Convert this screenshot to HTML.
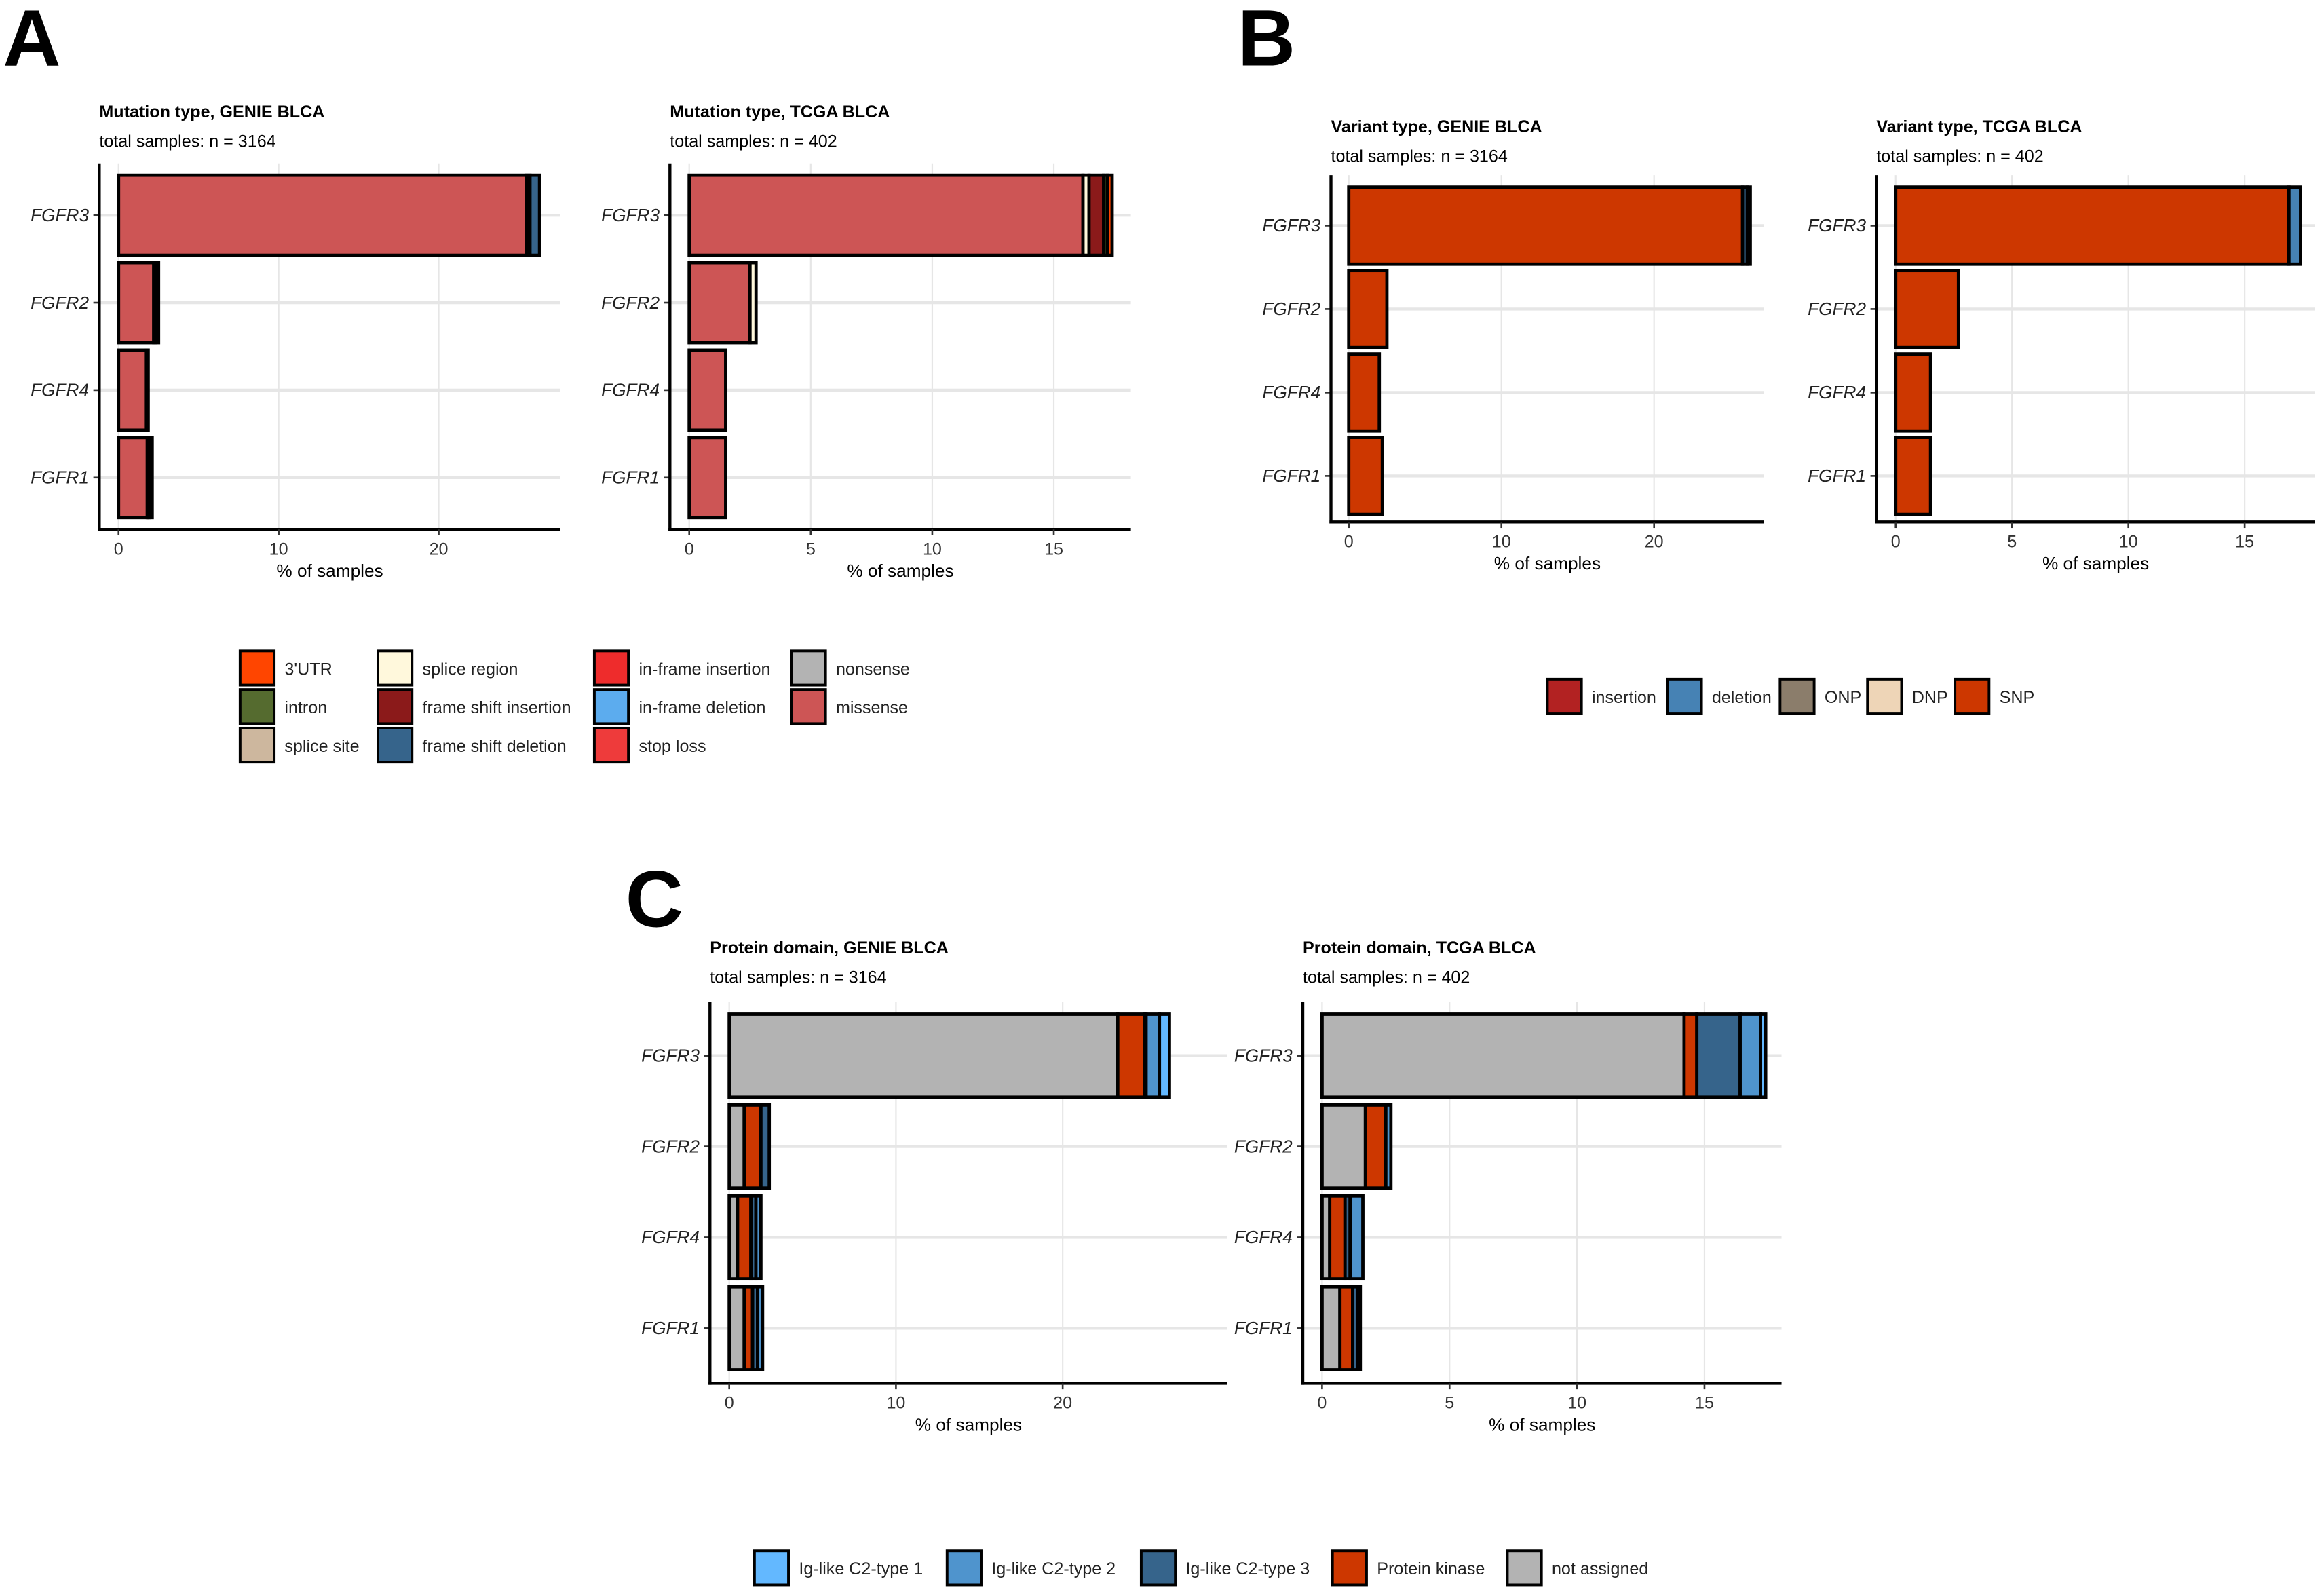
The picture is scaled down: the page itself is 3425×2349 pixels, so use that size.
<!DOCTYPE html>
<html><head><meta charset="utf-8"><style>
html,body{margin:0;padding:0;background:#fff}
svg{display:block}
text{font-family:"Liberation Sans",Arial,sans-serif}
</style></head><body>
<svg id="fig" width="3425" height="2349" viewBox="0 0 1568 1075" xmlns="http://www.w3.org/2000/svg">
<text x="2" y="44" font-size="54" font-weight="bold">A</text>
<text x="835" y="44" font-size="54" font-weight="bold">B</text>
<text x="422" y="625" font-size="54" font-weight="bold">C</text>
<g id="plots"></g>
<g id="legends"></g>
</svg>
<script>
const genes = ["FGFR3","FGFR2","FGFR4","FGFR1"];
// Panel A mutation type series (percent), order FGFR3, FGFR2, FGFR4, FGFR1
const aGenieMissense = [25.5, 2.2, 1.7, 1.8];
const aGenieNonsense = [0.2, 0.1, 0.05, 0.1];
const aGenieFsDel = [0.6, 0.2, 0.1, 0.2];
const aTcgaMissense = [16.2, 2.5, 1.5, 1.5];
const aTcgaSpliceRegion = [0.25, 0.25, 0, 0];
const aTcgaFsIns = [0.6, 0, 0, 0];
const aTcgaIntron = [0.15, 0, 0, 0];
const aTcgaUTR = [0.2, 0, 0, 0];
// Panel B variant type
const bGenieSNP = [25.8, 2.5, 2.0, 2.2];
const bGenieDel = [0.3, 0, 0, 0];
const bGenieIns = [0.2, 0, 0, 0];
const bTcgaSNP = [16.9, 2.7, 1.5, 1.5];
const bTcgaDel = [0.5, 0, 0, 0];
// Panel C protein domain
const cGenieNA = [23.3, 0.9, 0.5, 0.9];
const cGeniePK = [1.6, 1.0, 0.8, 0.5];
const cGenieC23 = [0.1, 0.5, 0.3, 0.3];
const cGenieC22 = [0.8, 0, 0.3, 0.3];
const cGenieC21 = [0.6, 0, 0, 0];
const cTcgaNA = [14.2, 1.7, 0.3, 0.7];
const cTcgaPK = [0.5, 0.8, 0.6, 0.5];
const cTcgaC23 = [1.7, 0, 0.2, 0.2];
const cTcgaC22 = [0.8, 0.2, 0.5, 0.1];
const cTcgaC21 = [0.2, 0, 0, 0];
// tick labels
const ticksWide = [0, 10, 20];
const ticksNarrow = [0, 5, 10, 15];

const NS="http://www.w3.org/2000/svg";
function mk(tag, attrs, parent){const e=document.createElementNS(NS,tag);for(const k in attrs)e.setAttribute(k,attrs[k]);parent.appendChild(e);return e;}

const panels=[
 {id:"a-genie",title:"Mutation type, GENIE BLCA",sub:"total samples: n = 3164",ax:67,x0:80,ppu:10.8,right:378,top:110,bottom:357,y0:145,step:59,bh:54,tY:79,ticks:ticksWide,
  series:[[aGenieMissense,"#CD5555"],[aGenieNonsense,"#B3B3B3"],[aGenieFsDel,"#36648B"]]},
 {id:"a-tcga",title:"Mutation type, TCGA BLCA",sub:"total samples: n = 402",ax:452,x0:465,ppu:16.4,right:763,top:110,bottom:357,y0:145,step:59,bh:54,tY:79,ticks:ticksNarrow,
  series:[[aTcgaMissense,"#CD5555"],[aTcgaSpliceRegion,"#FFF8DC"],[aTcgaFsIns,"#8B1A1A"],[aTcgaIntron,"#556B2F"],[aTcgaUTR,"#FF4500"]]},
 {id:"b-genie",title:"Variant type, GENIE BLCA",sub:"total samples: n = 3164",ax:898,x0:910,ppu:10.3,right:1190,top:118,bottom:352,y0:152,step:56.3,bh:52,tY:89,ticks:ticksWide,
  series:[[bGenieSNP,"#CD3700"],[bGenieDel,"#4682B4"],[bGenieIns,"#B22222"]]},
 {id:"b-tcga",title:"Variant type, TCGA BLCA",sub:"total samples: n = 402",ax:1266,x0:1279,ppu:15.7,right:1562,top:118,bottom:352,y0:152,step:56.3,bh:52,tY:89,ticks:ticksNarrow,
  series:[[bTcgaSNP,"#CD3700"],[bTcgaDel,"#4682B4"]]},
 {id:"c-genie",title:"Protein domain, GENIE BLCA",sub:"total samples: n = 3164",ax:479,x0:492,ppu:11.25,right:828,top:676,bottom:933,y0:712,step:61.3,bh:56,tY:643,ticks:ticksWide,
  series:[[cGenieNA,"#B3B3B3"],[cGeniePK,"#CD3700"],[cGenieC23,"#36648B"],[cGenieC22,"#4F94CD"],[cGenieC21,"#63B8FF"]]},
 {id:"c-tcga",title:"Protein domain, TCGA BLCA",sub:"total samples: n = 402",ax:879,x0:892,ppu:17.2,right:1202,top:676,bottom:933,y0:712,step:61.3,bh:56,tY:643,ticks:ticksNarrow,
  series:[[cTcgaNA,"#B3B3B3"],[cTcgaPK,"#CD3700"],[cTcgaC23,"#36648B"],[cTcgaC22,"#4F94CD"],[cTcgaC21,"#63B8FF"]]}
];
const plots=document.getElementById("plots");
panels.forEach(p=>{
 const g=mk("g",{},plots);
 
 
 const xs=v=>p.x0+v*p.ppu;
 const ys=i=>p.y0+i*p.step;
 const t=mk("text",{x:p.ax,y:p.tY,"font-size":11.5,"font-weight":"bold"},g);t.textContent=p.title;
 
 
 const s=mk("text",{x:p.ax,y:p.tY+20,"font-size":11.5},g);s.textContent=p.sub;
 
 
 p.ticks.forEach(tv=>{const l=mk("line",{x1:xs(tv),x2:xs(tv),y1:p.top,y2:p.bottom,stroke:"#e6e6e6","stroke-width":1},g);
  
  });
 genes.forEach((gn,i)=>{const l=mk("line",{x1:p.ax,x2:p.right,y1:ys(i),y2:ys(i),stroke:"#e6e6e6","stroke-width":2},g);
  
  });
 genes.forEach((gn,i)=>{
  let cum=0;
  p.series.forEach(([arr,col])=>{
   const v=arr[i]; if(!v) return;
   const r=mk("rect",{x:xs(cum),y:ys(i)-p.bh/2,width:v*p.ppu,height:p.bh,fill:col,stroke:"#000","stroke-width":2.2},g);
   
   
   cum+=v;
  });
  const lb=mk("text",{x:p.ax-7,y:ys(i)+4,"font-size":12,"font-style":"italic","text-anchor":"end",fill:"#222"},g);lb.textContent=gn;
  
  
  const tk=mk("line",{x1:p.ax-4,x2:p.ax,y1:ys(i),y2:ys(i),stroke:"#333","stroke-width":1.2},g);
  
  
 });
 const ya=mk("line",{x1:p.ax,x2:p.ax,y1:p.top,y2:p.bottom+1,stroke:"#000","stroke-width":2},g);
 
 
 const xa=mk("line",{x1:p.ax-1,x2:p.right,y1:p.bottom,y2:p.bottom,stroke:"#000","stroke-width":2},g);
 
 
 p.ticks.forEach(tv=>{
  const tk=mk("line",{x1:xs(tv),x2:xs(tv),y1:p.bottom,y2:p.bottom+4,stroke:"#333","stroke-width":1.2},g);
  
  
  const tl=mk("text",{x:xs(tv),y:p.bottom+17,"font-size":11.5,"text-anchor":"middle",fill:"#333"},g);tl.textContent=tv;
  
  
 });
 const xt=mk("text",{x:(p.ax+p.right)/2,y:p.bottom+32,"font-size":12,"text-anchor":"middle"},g);xt.textContent="% of samples";
 
 
});
const legendItems=[
 ["3'UTR","#FF4500",161,438],["intron","#556B2F",161,464],["splice site","#CDB79E",161,490],
 ["splice region","#FFF8DC",254,438],["frame shift insertion","#8B1A1A",254,464],["frame shift deletion","#36648B",254,490],
 ["in-frame insertion","#EE2C2C",400,438],["in-frame deletion","#5CACEE",400,464],["stop loss","#EE3B3B",400,490],
 ["nonsense","#B3B3B3",533,438],["missense","#CD5555",533,464],
 ["insertion","#B22222",1043,457],["deletion","#4682B4",1124,457],["ONP","#8B7D6B",1200,457],["DNP","#EED5B7",1259,457],["SNP","#CD3700",1318,457],
 ["Ig-like C2-type 1","#63B8FF",508,1045],["Ig-like C2-type 2","#4F94CD",638,1045],["Ig-like C2-type 3","#36648B",769,1045],["Protein kinase","#CD3700",898,1045],["not assigned","#B3B3B3",1016,1045]
];
const lg=document.getElementById("legends");
legendItems.forEach(([lab,col,x,y])=>{
 const g=mk("g",{},lg);
 
 
 mk("rect",{x:x+1,y:y+1,width:23,height:23,fill:col,stroke:"#000","stroke-width":1.8},g);
 const t=mk("text",{x:x+31,y:y+17,"font-size":11.5,fill:"#222"},g);t.textContent=lab;
});
</script>
</body></html>
